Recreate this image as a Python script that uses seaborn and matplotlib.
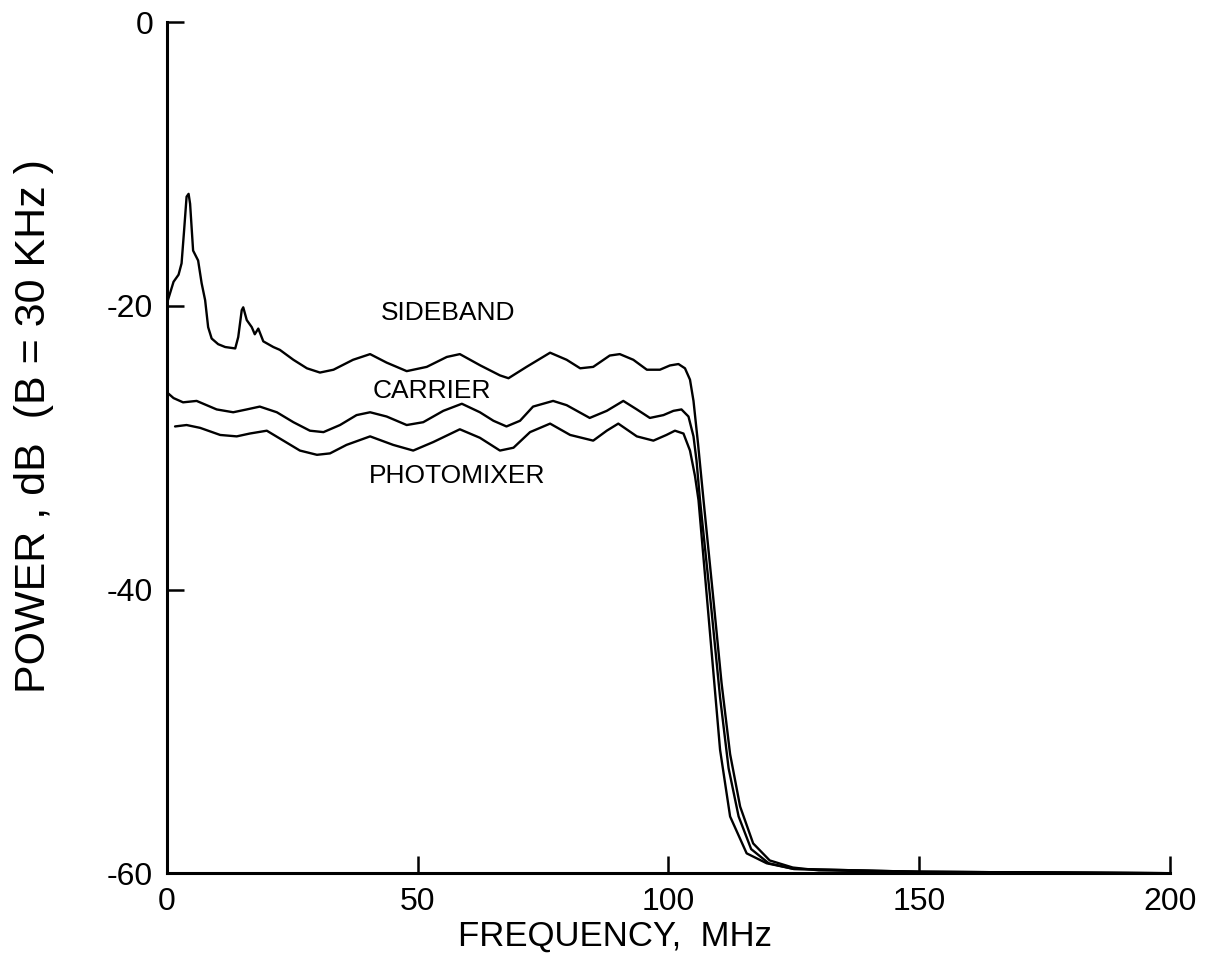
import numpy as np
import pandas as pd
import matplotlib
matplotlib.use("Agg")
import matplotlib.pyplot as plt
import seaborn as sns

sideband_freq = [0.0, 1.3, 2.3, 2.9, 3.4, 3.9, 4.3, 4.6, 5.2, 6.2, 6.9, 7.6, 8.2, 8.9,
                 10.2, 11.6, 13.6, 14.2, 14.9, 15.2, 15.9, 16.9, 17.5, 18.2, 19.2, 21.2,
                 22.5, 25.2, 27.9, 30.5, 33.2, 37.1, 40.5, 43.8, 47.8, 51.8, 55.8, 58.4,
                 62.5, 66.4, 68.1, 71.7, 76.4, 79.7, 82.4, 85.0, 88.3, 90.3, 93.0, 95.7,
                 98.3, 100.3, 102.0, 103.3, 104.3, 105.0, 105.9, 107.0, 109.0, 110.6,
                 112.3, 114.3, 116.9, 120.2, 124.8, 130.0, 150.0, 200.0]
sideband_db = [-19.8, -18.3, -17.8, -17.0, -14.7, -12.3, -12.1, -12.8, -16.1, -16.8, -18.4,
               -19.6, -21.5, -22.3, -22.7, -22.9, -23.0, -22.2, -20.3, -20.1, -21.0, -21.5,
               -22.0, -21.6, -22.5, -22.9, -23.1, -23.8, -24.4, -24.7, -24.5, -23.8, -23.4,
               -24.0, -24.6, -24.3, -23.6, -23.4, -24.2, -24.9, -25.1, -24.3, -23.3, -23.8,
               -24.4, -24.3, -23.5, -23.4, -23.8, -24.5, -24.5, -24.2, -24.1, -24.4, -25.2,
               -26.7, -29.7, -33.7, -40.8, -46.6, -51.6, -55.3, -57.9, -59.1, -59.6, -59.8,
               -59.9, -60.0]

carrier_freq = [0.0, 1.3, 3.2, 5.9, 9.9, 13.2, 15.9, 18.5, 21.9, 25.2, 28.5, 31.2, 34.5,
                37.8, 40.5, 43.8, 47.8, 51.1, 55.1, 58.8, 62.4, 65.1, 67.7, 70.4, 73.0,
                77.0, 79.7, 84.3, 87.7, 91.0, 93.7, 96.3, 99.0, 101.0, 102.6, 104.0, 105.0,
                105.6, 106.3, 108.6, 110.3, 112.0, 114.0, 116.5, 120.0, 125.0, 150.0, 200.0]
carrier_db = [-26.1, -26.5, -26.8, -26.7, -27.3, -27.5, -27.3, -27.1, -27.5, -28.2, -28.8,
              -28.9, -28.4, -27.7, -27.5, -27.8, -28.4, -28.2, -27.4, -26.9, -27.5, -28.1,
              -28.5, -28.1, -27.1, -26.7, -27.0, -27.9, -27.4, -26.7, -27.3, -27.9, -27.7,
              -27.4, -27.3, -27.8, -29.2, -30.9, -33.7, -41.5, -47.6, -52.6, -56.0, -58.3,
              -59.3, -59.7, -59.9, -60.0]

photomixer_freq = [1.6, 3.9, 6.6, 10.6, 13.9, 16.5, 19.9, 23.2, 26.5, 29.9, 32.5, 35.8,
                   40.5, 45.1, 49.1, 53.1, 58.4, 62.4, 66.4, 69.1, 72.4, 76.4, 80.4, 85.0,
                   87.7, 90.0, 93.7, 97.0, 99.6, 101.3, 103.0, 104.3, 105.3, 106.0, 108.3,
                   110.3, 112.3, 115.6, 119.6, 125.0, 150.0, 200.0]
photomixer_db = [-28.5, -28.4, -28.6, -29.1, -29.2, -29.0, -28.8, -29.5, -30.2, -30.5, -30.4,
                 -29.8, -29.2, -29.8, -30.2, -29.6, -28.7, -29.3, -30.2, -30.0, -28.9, -28.3,
                 -29.1, -29.5, -28.8, -28.3, -29.2, -29.5, -29.1, -28.8, -29.0, -30.2, -32.0,
                 -33.7, -43.1, -51.3, -56.0, -58.6, -59.3, -59.7, -59.9, -60.0]

x_ticks = [0, 50, 100, 150, 200]
y_ticks = [0, -20, -40, -60]

series = [("SIDEBAND", sideband_freq, sideband_db, (56, -20.5)),
          ("CARRIER", carrier_freq, carrier_db, (52.8, -26.0)),
          ("PHOTOMIXER", photomixer_freq, photomixer_db, (57.8, -32.0))]

sns.set_style("ticks")
plt.rcParams['font.family'] = ['Liberation Sans', 'DejaVu Sans']
plt.rcParams['text.color'] = 'black'
plt.rcParams['axes.labelcolor'] = 'black'

fig = plt.figure(figsize=(12.06, 9.67), dpi=100)
ax = fig.add_axes([0.1385, 0.097, 0.8315, 0.88])

for name, f, p, pos in series:
    df = pd.DataFrame({"freq": f, "power": p})
    sns.lineplot(data=df, x="freq", y="power", color="black", linewidth=1.7,
                 sort=False, estimator=None, ax=ax)
    ax.text(pos[0], pos[1], name, ha="center", va="center", fontsize=19, color="black")

ax.set_xlim(0, 200)
ax.set_ylim(-60, 0)
ax.set_xticks(x_ticks)
ax.set_xticklabels([str(t) for t in x_ticks])
ax.set_yticks(y_ticks)
ax.set_yticklabels([str(t) for t in y_ticks])
ax.tick_params(direction="in", length=12, width=1.8, labelsize=23, pad=10, colors="black")
for side in ["top", "right"]:
    ax.spines[side].set_visible(False)
for side in ["left", "bottom"]:
    ax.spines[side].set_linewidth(2.2)
    ax.spines[side].set_color("black")

ax.set_xlabel("FREQUENCY,  MHz", fontsize=25)
ax.set_ylabel("POWER , dB  (B = 30 KHz )", fontsize=31)
ax.xaxis.set_label_coords(0.447, -0.055)
ax.yaxis.set_label_coords(-0.113, 0.526)

fig.savefig("out.png", dpi=100)
